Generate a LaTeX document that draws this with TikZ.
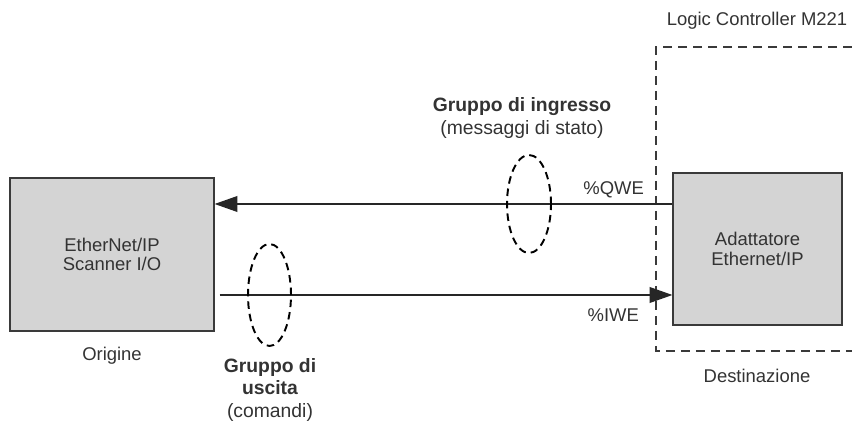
\documentclass[tikz,border=0pt]{standalone}
\usepackage{fontspec}
\setmainfont{Liberation Sans}
\usetikzlibrary{arrows.meta,shapes.geometric}
\definecolor{boxgray}{HTML}{D4D4D4}
\definecolor{linegray}{HTML}{3A3A3A}

\begin{document}
\begin{tikzpicture}[x=0.02cm, y=-0.02cm, >={Triangle[length=13pt,width=9pt]},
    every node/.style={font=\fontsize{10.5}{11}\selectfont, text=black!80}]
      \useasboundingbox (0,0) rectangle (852,421);
      % Ursprung und Ziel
      \node[draw=linegray, line width=0.7pt, fill=boxgray, align=center,
            minimum width=4.08cm, minimum height=3.06cm] (scan) at (112,254.5) {EtherNet/IP\\Scanner I/O};
      \node[draw=linegray, line width=0.7pt, fill=boxgray, align=center,
            minimum width=3.38cm, minimum height=3.04cm] (dest) at (757.5,249) {Adattatore\\Ethernet/IP};
      \node (orig) at (112,356) {Origine};
      \node (dst) at (757,376) {Destinazione};
      \node (lc) at (757,21) {Logic Controller M221};
      \coordinate (ctl) at (852,47);
      \coordinate (cbl) at (852,351);
      \draw[linegray, line width=0.6pt, dash pattern=on 0.18cm off 0.12cm] (ctl) -| (656,351) -- (cbl);
      % Verbindungen
      \coordinate (qy) at (0,204);
      \coordinate (iy) at (0,295);
      \draw[->, black!85, line width=0.7pt] (dest.west |- qy) -- node[pos=0, above left, xshift=-0.44cm]{\%QWE} (scan.east |- qy);
      \draw[->, black!85, line width=0.7pt] ([xshift=0.1cm]scan.east |- iy) -- node[pos=1, below left, xshift=-0.54cm, yshift=-0.15cm]{\%IWE} (dest.west |- iy);
      % Gruppen
      \node[draw=black, ellipse, line width=1.1pt, dash pattern=on 0.15cm off 0.1cm, inner sep=0pt,
            minimum width=0.88cm, minimum height=1.96cm] (ingr) at (529,204) {};
      \node[draw=black, ellipse, line width=1.1pt, dash pattern=on 0.15cm off 0.1cm, inner sep=0pt,
            minimum width=0.86cm, minimum height=2.04cm] (usc) at (269.5,295) {};
      \node[align=center, font=\fontsize{11}{13.6}\selectfont] (ingrlbl) at (522,118) {\textbf{Gruppo di ingresso}\\(messaggi di stato)};
      \node[align=center, font=\fontsize{11}{12.8}\selectfont] (usclbl) at (270,390) {\textbf{Gruppo di}\\\textbf{uscita}\\(comandi)};
    \end{tikzpicture}
\end{document}
